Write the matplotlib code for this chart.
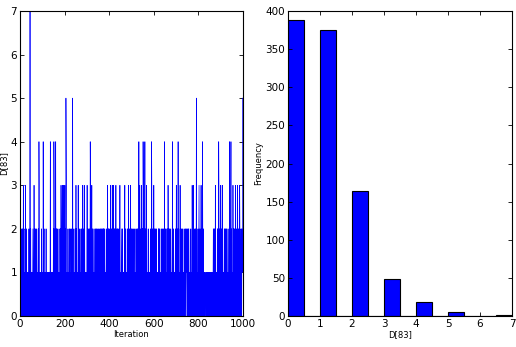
import numpy as np
import matplotlib
matplotlib.use("Agg")
import matplotlib.pyplot as plt

# trace of D[83], one digit per iteration (approximate)
trace_rows = [
    "0110101021" "1020130120" "0110230102" "1001101100" "2010171020"
    "1110100121" "0103120010" "2101020110" "0120143010" "1011001201",
    "0101420120" "1100110201" "0110010101" "1001014300" "1010110101"
    "2043101201" "4120120010" "2101101102" "1020310212" "3012013021",
    "2302015430" "1101020110" "0210120101" "1020105120" "0111010201"
    "0310201100" "1302010120" "0101201021" "1302010130" "2010110010",
    "1302101020" "0120143010" "2130120101" "0120110120" "1021012010"
    "0210101121" "0120120102" "1012021010" "2101010120" "1013021020",
    "0102101301" "2010130103" "1020120101" "3101020120" "1012010130"
    "0110121001" "2010101102" "3102010100" "1201020310" "0120103021",
    "1020101201" "0120110100" "2101020121" "0104101320" "1020131020"
    "2143012010" "4012010320" "1101020101" "0110120102" "4301201021",
    "3101201020" "1020111010" "0212010201" "1010120102" "0101201040"
    "1201020110" "0120310201" "2010102101" "0102410120" "1010101201",
    "1301020104" "0120101030" "2101201020" "1010102101" "0122101221"
    "1022012210" "0110102101" "1031020130" "2010120102" "1520101020",
    "0123010201" "1030120143" "1020101101" "1110011011" "0111101101"
    "1101110011" "1011101210" "2101203010" "1101020120" "0431020102",
    "3010201302" "1011010210" "2101201021" "0110101201" "4010124012"
    "0101031020" "1201020310" "0120103021" "1020132010" "1201021255",
]
trace = np.array([int(c) for c in "".join(trace_rows)])
iterations = np.arange(len(trace))

x_ticks_trace = [0, 200, 400, 600, 800, 1000]
y_ticks_trace = [0, 1, 2, 3, 4, 5, 6, 7]
y_ticks_hist = [0, 50, 100, 150, 200, 250, 300, 350, 400]

fig = plt.figure(figsize=(5.16, 3.47), dpi=100)
ax1 = fig.add_axes([20 / 516, 31 / 347, 223 / 516, 305 / 347])
ax2 = fig.add_axes([288 / 516, 31 / 347, 224 / 516, 305 / 347])

ax1.plot(iterations, trace, color="#0000ff", lw=0.5)
ax1.set_xlim(0, 1000)
ax1.set_ylim(0, 7)
ax1.set_xticks(x_ticks_trace)
ax1.set_yticks(y_ticks_trace)
ax1.set_xlabel("Iteration", fontsize=6, labelpad=1)
ax1.set_ylabel("D[83]", fontsize=6, labelpad=2)

ax2.hist(trace, bins=14, color="#0000ff", edgecolor="black", linewidth=0.8)
ax2.set_xlim(0, 7)
ax2.set_ylim(0, 400)
ax2.set_yticks(y_ticks_hist)
ax2.set_xlabel("D[83]", fontsize=6, labelpad=1)
ax2.set_ylabel("Frequency", fontsize=6, labelpad=2)

for ax in (ax1, ax2):
    ax.tick_params(direction="in", top=True, right=True, labelsize=7.5,
                   length=3, width=0.6, pad=2)
    for s in ax.spines.values():
        s.set_linewidth(0.8)

fig.savefig("out.png", dpi=100)
